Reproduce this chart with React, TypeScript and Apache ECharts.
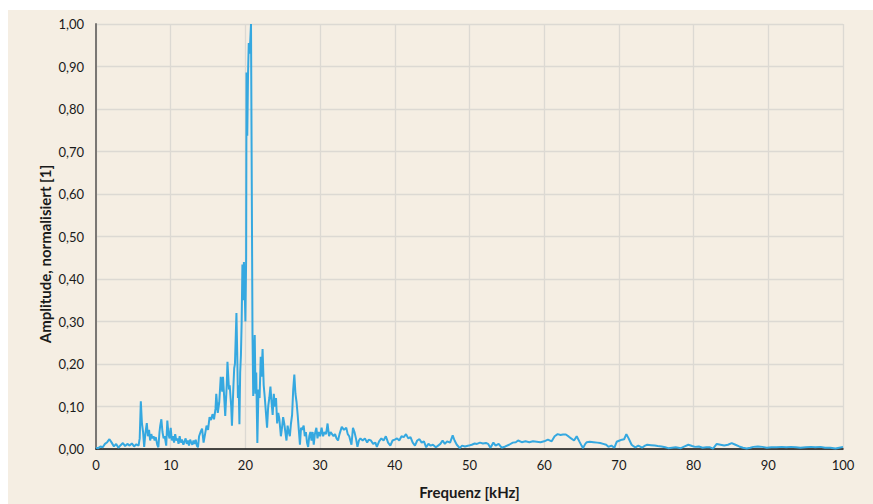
import React, { useEffect, useRef } from "react";
import * as echarts from "echarts";

// Normalised amplitude spectrum, [frequency in kHz, amplitude]
const lowBand: [number, number][] = [
  [0.0, 0.003], [0.3, 0.002], [0.6, 0.006], [0.9, 0.004], [1.2, 0.012], [1.5, 0.016],
  [1.8, 0.023], [2.1, 0.015], [2.4, 0.006], [2.7, 0.012], [3.0, 0.003], [3.3, 0.009],
  [3.6, 0.014], [3.9, 0.007], [4.2, 0.012], [4.5, 0.008], [4.8, 0.013], [5.1, 0.006],
  [5.4, 0.011], [5.7, 0.008], [5.85, 0.025], [6.0, 0.112], [6.15, 0.06], [6.3, 0.04],
  [6.45, 0.005], [6.6, 0.035], [6.8, 0.061], [6.95, 0.03], [7.1, 0.045], [7.25, 0.02],
  [7.4, 0.035], [7.55, 0.025], [7.7, 0.03], [7.85, 0.02], [8.0, 0.028], [8.2, 0.01],
  [8.35, 0.004], [8.5, 0.04], [8.6, 0.055], [8.75, 0.07], [8.9, 0.04], [9.05, 0.025],
  [9.2, 0.03], [9.4, 0.008], [9.55, 0.067], [9.7, 0.035], [9.85, 0.025], [10.0, 0.05],
  [10.15, 0.02], [10.3, 0.03], [10.45, 0.015], [10.6, 0.035], [10.75, 0.02], [10.9, 0.025],
  [11.05, 0.012], [11.2, 0.03], [11.35, 0.015], [11.5, 0.022], [11.7, 0.01], [11.85, 0.018],
  [12.0, 0.025], [12.15, 0.012], [12.3, 0.02], [12.45, 0.008], [12.6, 0.022], [12.75, 0.015],
  [12.9, 0.01], [13.05, 0.02], [13.2, 0.012], [13.35, 0.022], [13.5, 0.008], [13.65, 0.004],
  [13.8, 0.03],
];

const peakBand: [number, number][] = [
  [14.0, 0.04], [14.2, 0.048], [14.4, 0.015], [14.6, 0.035], [14.8, 0.055], [15.0, 0.045],
  [15.2, 0.075], [15.4, 0.068], [15.6, 0.082], [15.8, 0.07], [16.0, 0.095], [16.1, 0.13],
  [16.3, 0.085], [16.5, 0.11], [16.7, 0.17], [16.9, 0.135], [17.0, 0.17], [17.2, 0.11],
  [17.3, 0.078], [17.5, 0.15], [17.6, 0.205], [17.8, 0.14], [17.9, 0.15], [18.1, 0.1],
  [18.2, 0.055], [18.4, 0.15], [18.5, 0.19], [18.6, 0.2], [18.7, 0.26], [18.8, 0.32],
  [18.9, 0.23], [19.0, 0.12], [19.1, 0.15], [19.2, 0.058], [19.3, 0.18], [19.4, 0.22],
  [19.5, 0.3], [19.6, 0.434], [19.7, 0.35], [19.8, 0.44], [19.9, 0.38], [20.0, 0.3],
  [20.1, 0.45], [20.15, 0.886], [20.25, 0.737], [20.35, 0.88], [20.45, 0.955], [20.55, 0.93],
  [20.65, 0.96], [20.75, 1.0], [20.95, 0.27], [21.05, 0.125], [21.15, 0.2], [21.25, 0.268],
  [21.35, 0.13], [21.45, 0.18], [21.6, 0.014], [21.75, 0.14], [21.9, 0.12], [22.05, 0.217],
  [22.15, 0.17], [22.3, 0.235], [22.45, 0.15], [22.6, 0.12], [22.75, 0.085], [22.9, 0.05],
  [23.05, 0.1], [23.2, 0.12], [23.35, 0.147], [23.5, 0.11], [23.65, 0.08], [23.8, 0.13],
  [23.95, 0.1], [24.1, 0.12], [24.25, 0.06], [24.4, 0.085], [24.55, 0.07], [24.75, 0.03],
  [24.9, 0.05], [25.05, 0.075], [25.2, 0.06], [25.35, 0.04], [25.5, 0.02], [25.65, 0.055],
  [25.8, 0.04], [25.95, 0.03], [26.1, 0.06], [26.25, 0.08], [26.4, 0.14], [26.55, 0.175],
  [26.7, 0.13], [26.85, 0.11], [27.0, 0.08], [27.15, 0.045], [27.3, 0.01], [27.45, 0.05],
  [27.6, 0.045], [27.8, 0.055], [27.95, 0.03], [28.1, 0.04], [28.25, 0.015], [28.4, 0.005],
  [28.55, 0.03], [28.7, 0.04], [28.85, 0.02], [29.0, 0.04], [29.15, 0.01], [29.3, 0.035],
  [29.5, 0.05], [29.65, 0.025], [29.8, 0.04],
];

const midBand: [number, number][] = [
  [30.0, 0.03], [30.2, 0.05], [30.4, 0.03], [30.6, 0.04], [30.8, 0.035], [31.0, 0.06],
  [31.2, 0.03], [31.4, 0.04], [31.6, 0.035], [31.8, 0.03], [32.0, 0.035], [32.2, 0.025],
  [32.4, 0.02], [32.6, 0.035], [32.9, 0.052], [33.2, 0.045], [33.5, 0.05], [33.7, 0.035],
  [33.9, 0.03], [34.2, 0.01], [34.4, 0.05], [34.6, 0.04], [34.8, 0.025], [35.0, 0.005],
  [35.2, 0.02], [35.4, 0.025], [35.7, 0.02], [36.0, 0.025], [36.3, 0.015], [36.5, 0.022],
  [36.8, 0.02], [37.1, 0.012], [37.4, 0.015], [37.6, 0.005], [37.9, 0.018], [38.2, 0.025],
  [38.5, 0.02], [38.8, 0.03], [39.1, 0.015], [39.4, 0.008], [39.7, 0.02], [40.0, 0.022],
  [40.3, 0.025], [40.6, 0.02], [40.9, 0.03], [41.2, 0.028], [41.5, 0.035], [41.8, 0.025],
  [42.1, 0.028], [42.4, 0.015], [42.7, 0.008], [43.0, 0.02], [43.3, 0.023], [43.6, 0.015],
  [43.9, 0.018], [44.2, 0.004], [44.5, 0.012], [44.8, 0.008], [45.1, 0.01], [45.5, 0.004],
  [45.8, 0.008], [46.1, 0.012], [46.4, 0.02], [46.7, 0.012], [47.0, 0.018], [47.4, 0.015],
  [47.75, 0.032], [48.0, 0.02], [48.3, 0.01], [48.7, 0.002], [49.0, 0.008], [49.4, 0.006],
  [49.9, 0.008], [50.3, 0.01], [50.7, 0.013], [51.0, 0.012], [51.4, 0.015], [51.8, 0.013],
  [52.2, 0.014], [52.5, 0.012], [52.8, 0.003], [53.2, 0.015], [53.5, 0.008], [53.9, 0.012],
  [54.3, 0.003], [54.8, 0.006], [55.3, 0.01], [55.8, 0.015], [56.2, 0.016], [56.5, 0.02],
  [57.0, 0.016], [57.5, 0.018], [58.0, 0.016], [58.5, 0.018], [59.0, 0.017], [59.5, 0.016],
  [60.0, 0.018], [60.5, 0.022], [61.0, 0.018], [61.4, 0.03], [61.8, 0.035], [62.2, 0.033],
  [62.5, 0.034], [62.9, 0.034], [63.3, 0.029], [63.6, 0.025], [64.0, 0.02], [64.35, 0.03],
  [64.7, 0.018], [65.0, 0.008], [65.2, 0.002], [65.5, 0.012], [65.7, 0.016],
];

const highBand: [number, number][] = [
  [66.1, 0.017], [66.6, 0.016], [67.1, 0.015], [67.5, 0.014], [67.9, 0.012], [68.3, 0.01],
  [68.6, 0.005], [69.0, 0.008], [69.4, 0.003], [69.7, 0.017], [70.1, 0.02], [70.4, 0.022],
  [70.7, 0.023], [71.0, 0.035], [71.3, 0.025], [71.7, 0.01], [72.0, 0.006], [72.2, 0.004],
  [72.6, 0.008], [73.1, 0.003], [73.5, 0.008], [73.8, 0.01], [74.3, 0.009], [74.8, 0.008],
  [75.2, 0.007], [75.7, 0.006], [76.2, 0.004], [76.6, 0.002], [77.1, 0.003], [77.6, 0.004],
  [78.3, 0.002], [78.8, 0.006], [79.3, 0.01], [79.8, 0.007], [80.2, 0.005], [80.7, 0.006],
  [81.2, 0.003], [81.7, 0.004], [82.2, 0.004], [82.6, 0.001], [83.1, 0.012], [83.6, 0.01],
  [84.1, 0.008], [84.6, 0.01], [85.1, 0.014], [85.6, 0.01], [86.1, 0.006], [86.6, 0.003],
  [87.1, 0.001], [87.6, 0.003], [88.0, 0.005], [88.6, 0.006], [89.2, 0.005], [89.8, 0.003],
  [90.4, 0.004], [91.1, 0.004], [91.8, 0.005], [92.4, 0.004], [93.0, 0.005], [93.7, 0.004],
  [94.3, 0.003], [95.0, 0.004], [95.7, 0.005], [96.3, 0.004], [97.0, 0.005], [97.6, 0.003],
  [98.3, 0.003], [99.0, 0.001], [99.5, 0.003], [100.0, 0.005],
];

const spectrum = [...lowBand, ...peakBand, ...midBand, ...highBand];

const X_TITLE = "Frequenz [kHz]";
const Y_TITLE = "Amplitude, normalisiert [1]";

const FONT = "Lato, 'Open Sans', sans-serif";

export default function App() {
  const ref = useRef<HTMLDivElement>(null);

  useEffect(() => {
    if (!ref.current) return;
    const chart = echarts.init(ref.current, undefined, { renderer: "svg" });
    chart.setOption({
      animation: false,
      backgroundColor: "#F5EEE3",
      textStyle: { fontFamily: FONT },
      grid: { left: 88, right: 30, top: 14, bottom: 51, containLabel: false },
      graphic: [
        {
          type: "text",
          x: 37,
          y: 244,
          rotation: Math.PI / 2,
          style: {
            text: Y_TITLE,
            align: "center",
            verticalAlign: "middle",
            font: `bold 15px ${FONT}`,
            fill: "#1a1a1a",
          },
        },
      ],
      xAxis: {
        type: "value",
        min: 0,
        max: 100,
        interval: 10,
        name: X_TITLE,
        nameLocation: "middle",
        nameGap: 35,
        nameTextStyle: { fontFamily: FONT, fontSize: 15, fontWeight: "bold", color: "#1a1a1a" },
        axisLine: { onZero: true, lineStyle: { color: "#111", width: 1.5 } },
        axisTick: { show: false },
        axisLabel: { fontFamily: FONT, fontSize: 13, color: "#1a1a1a", margin: 9 },
        splitLine: { show: true, lineStyle: { color: "#DCD9D3", width: 1.3 } },
      },
      yAxis: {
        type: "value",
        min: 0,
        max: 1,
        interval: 0.1,
        axisLine: { show: true, lineStyle: { color: "#7A7774", width: 2 } },
        axisTick: { show: false },
        axisLabel: {
          fontFamily: FONT,
          fontSize: 13,
          color: "#1a1a1a",
          margin: 12,
          formatter: (v: number) => v.toFixed(2).replace(".", ","),
        },
        splitLine: { show: true, lineStyle: { color: "#DCD9D3", width: 1.3 } },
      },
      series: [
        {
          type: "line",
          data: spectrum,
          showSymbol: false,
          lineStyle: { color: "#35A8E0", width: 2 },
          itemStyle: { color: "#35A8E0" },
        },
      ],
    });
    return () => chart.dispose();
  }, []);

  return (
    <div style={{ position: "fixed", left: 0, top: 0, width: 873, height: 504, background: "#FFFFFF" }}>
      <div ref={ref} style={{ position: "absolute", left: 8, top: 10, width: 865, height: 494 }} />
    </div>
  );
}
